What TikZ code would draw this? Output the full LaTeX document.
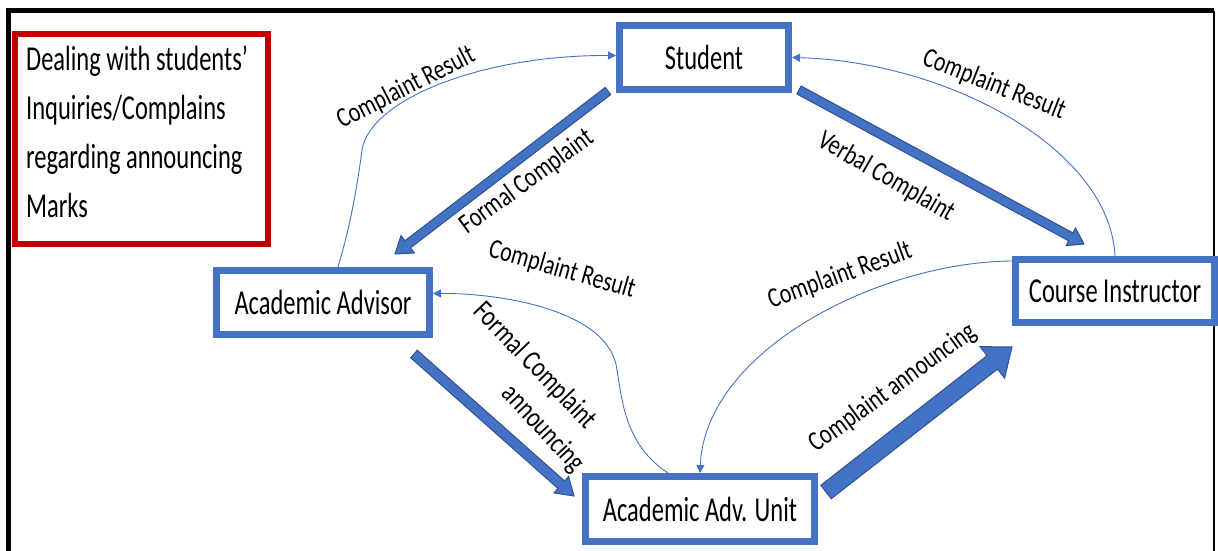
\documentclass[tikz,border=0pt]{standalone}
\usepackage{fontspec}
\usetikzlibrary{arrows.meta,calc}

\newfontfamily\boxfont{Carlito}[FakeStretch=0.70]
\newfontfamily\lblfont{Carlito}[FakeStretch=0.78]
\newcommand\titlefont{\boxfont\fontsize{35}{49}\selectfont}
\newcommand\partyfont{\boxfont\fontsize{35}{42}\selectfont}
\newcommand\flowfont{\lblfont\fontsize{28}{36}\selectfont}
\newcommand\steepfont{\lblfont\fontsize{29}{36}\selectfont}

\definecolor{boxblue}{HTML}{4472C4}
\definecolor{edgeblue}{HTML}{2F528F}
\definecolor{titlered}{HTML}{C00000}

% block arrow: from, to, half shaft, half head, head length
\newcommand\fatarrow[5]{%
  \filldraw[fatarrow] let \p1=(#1), \p2=(#2),
    \n1={atan2(\y2-\y1,\x2-\x1)}, \n2={veclen(\x2-\x1,\y2-\y1)} in
    [shift={(\p1)}, rotate=\n1]
    (0pt,#3pt) -- ({\n2-#5pt},#3pt) -- ({\n2-#5pt},#4pt) -- (\n2,0pt)
    -- ({\n2-#5pt},-#4pt) -- ({\n2-#5pt},-#3pt) -- (0pt,-#3pt) -- cycle;}

\begin{document}
\begin{tikzpicture}[x=1pt, y=-1pt,
  actor/.style={draw=boxblue, line width=7pt, inner sep=0pt, font=\partyfont},
  backflow/.style={draw=boxblue, line width=0.9pt, -{Triangle[length=8pt,width=8pt]}},
  flowtext/.style={font=\flowfont, inner sep=0pt},
  fatarrow/.style={fill=boxblue, draw=edgeblue, line width=1pt}]
  \useasboundingbox (0,0) rectangle (1218,551);
  % frame, open at the bottom
  \draw[line width=5pt] (8,551) -- (8,11) -- (1214,11);
  \draw[line width=1.5pt] (1214,11) -- (1214,551);
  % title
  \node[draw=titlered, line width=6pt, text width=230pt, inner xsep=11.5pt, minimum height=210pt,
        align=left, text height=24pt, text depth=161pt, font=\titlefont]
    (title) at (141.2,138.7) {\spaceskip=5.5pt\relax
      \mbox{Dealing with students’}\\\mbox{Inquiries/Complains}\\
      \mbox{regarding announcing}\\\mbox{Marks}};
  % parties
  \node[actor, minimum width=169pt, minimum height=64pt] (student) at (704,57.5) {Student};
  \node[actor, minimum width=213pt, minimum height=64pt] (advisor) at (323,302.5) {Academic Advisor};
  \node[actor, minimum width=229pt, minimum height=65pt] (advunit) at (700,509) {Academic Adv. Unit};
  \node[actor, minimum width=199pt, minimum height=63pt] (instructor) at (1115,291) {Course Instructor};
  % complaints
  \fatarrow{[xshift=-8pt,yshift=2pt]student.south west}{[xshift=-38pt,yshift=13pt]advisor.north east}{4.5}{11}{16}
  \fatarrow{[xshift=7pt,yshift=3pt]student.south east}{[xshift=72pt,yshift=12pt]instructor.north west}{4.5}{10}{15}
  \fatarrow{[xshift=-19pt,yshift=-16pt]advisor.south east}{[xshift=-8pt,yshift=13pt]advunit.west}{5}{11}{17}
  \fatarrow{[xshift=8pt,yshift=-19pt]advunit.north east}{[yshift=-21pt]instructor.south west}{8.5}{20}{25}
  % results going back
  \draw[backflow] ([xshift=15pt]advisor.north) .. controls (352,220) and (358,180) .. (362,150)
    .. controls (370,100) and (480,55) .. ([yshift=2pt]student.west);
  \draw[backflow] (instructor.north) .. controls (1110,150) and (950,62) .. (student.east);
  \draw[backflow] ([xshift=-32pt]advunit.north) .. controls (625,445) and (622,400) .. (617,370)
    .. controls (610,310) and (500,293) .. ([yshift=9pt]advisor.east);
  \draw[backflow] ([yshift=-5pt]instructor.north west) .. controls (880,262) and (705,350) .. (advunit.north);
  % labels
  \node[flowtext, rotate=27] (resA) at (406,88) {Complaint Result};
  \node[flowtext, rotate=36] (formal) at (527,182) {Formal Complaint};
  \node[flowtext, rotate=-30] (verbal) at (886,177) {Verbal Complaint};
  \node[flowtext, rotate=-21.5] (resB) at (994,85) {Complaint Result};
  \node[flowtext, rotate=-16] (resC) at (562,270) {Complaint Result};
  \node[flowtext, rotate=-46, font=\steepfont] (formalB) at (535,366) {Formal Complaint};
  \node[flowtext, rotate=-47, font=\steepfont] (announceB) at (543,429) {announcing};
  \node[flowtext, rotate=20] (resD) at (840,276) {Complaint Result};
  \node[flowtext, rotate=36] (announce) at (893,388) {Complaint announcing};
\end{tikzpicture}
\end{document}
